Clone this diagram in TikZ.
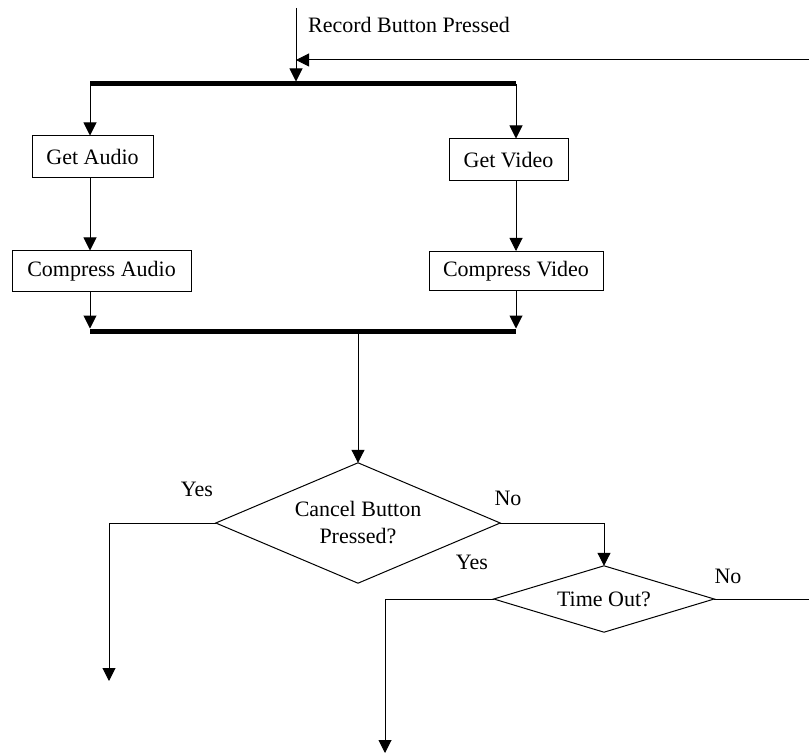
\documentclass[tikz,border=0pt]{standalone}
\usepackage{fontspec}
\setmainfont{Liberation Serif}
\usetikzlibrary{arrows.meta}
\begin{document}
\begin{tikzpicture}[x=1pt,y=-1pt,
  font=\fontsize{22}{27}\selectfont,
  flow/.style={line width=1pt,-{Triangle[length=13pt,width=13pt]}},
  plain/.style={line width=1pt},
  syncbar/.style={line width=5pt},
  task/.style={draw,line width=1pt,rectangle,inner sep=0pt},
  % a decision is a diamond spanning the node's rectangular frame
  decision/.style={rectangle,inner sep=0pt,align=center,
    append after command={
      \pgfextra{\draw[line width=1pt]
        (\tikzlastnode.north) -- (\tikzlastnode.east) --
        (\tikzlastnode.south) -- (\tikzlastnode.west) -- cycle;}}},
  lbl/.style={inner sep=0pt}]
\useasboundingbox (0,0) rectangle (809,754);

% activities
\node[task,minimum width=121pt,minimum height=42pt] (audio)  at (92.5,157)  {Get Audio};
\node[task,minimum width=119pt,minimum height=42pt] (video)  at (508.5,160) {Get Video};
\node[task,minimum width=179pt,minimum height=41pt] (caudio) at (101.5,271.5) {Compress Audio};
\node[task,minimum width=174pt,minimum height=39pt] (cvideo) at (516,271)   {Compress Video};

% decisions
\node[decision,minimum width=284pt,minimum height=120pt] (cancel)  at (358,523) {Cancel Button\\Pressed?};
\node[decision,minimum width=220pt,minimum height=66pt]  (timeout) at (604,599) {Time Out?};

% fixed points
\coordinate (start)      at (296,8);
\coordinate (fork)       at (296,84);
\coordinate (forkL)      at (90,84);
\coordinate (forkR)      at (516,84);
\coordinate (joinL)      at (90,331);
\coordinate (joinR)      at (516,331);
\coordinate (loopin)     at (809,60);
\coordinate (cancelout)  at (109,681);
\coordinate (timeoutout) at (385,753);
\coordinate (exitR)      at (809,599);

% synchronisation bars
\draw[syncbar] (forkL) -- (forkR);
\draw[syncbar] (joinL) -- (joinR);

% entry and loop back
\draw[flow,shorten >=2.5pt] (start) -- (fork);
\draw[flow] (loopin) -- (loopin -| start);
\node[lbl] (recordlbl) at (409,25) {Record Button Pressed};

% audio branch
\draw[flow] (forkL) -- (forkL |- audio.north);
\draw[flow] (forkL |- audio.south) -- (forkL |- caudio.north);
\draw[flow,shorten >=2.5pt] (forkL |- caudio.south) -- (joinL);

% video branch
\draw[flow] (forkR) -- (forkR |- video.north);
\draw[flow] (forkR |- video.south) -- (forkR |- cvideo.north);
\draw[flow,shorten >=2.5pt] (forkR |- cvideo.south) -- (joinR);

% decisions
\draw[flow] (cancel.north |- joinL) -- (cancel.north);
\draw[flow] (cancel.west) -| (cancelout);
\draw[flow] (cancel.east) -| (timeout.north);
\draw[flow] (timeout.west) -| (timeoutout);
\draw[plain] (timeout.east) -- (exitR);

\node[lbl] (yes1) at (197,489) {Yes};
\node[lbl] (no1)  at (508,498) {No};
\node[lbl] (yes2) at (472,562) {Yes};
\node[lbl] (no2)  at (728,576) {No};
\end{tikzpicture}
\end{document}
